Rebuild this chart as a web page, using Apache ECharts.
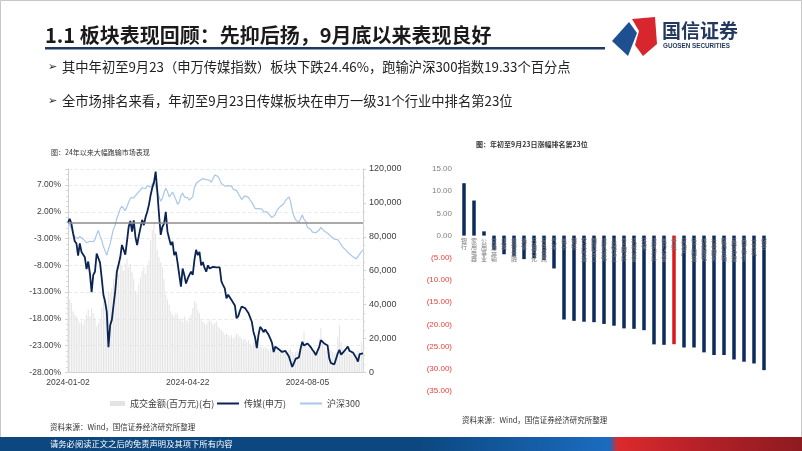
<!DOCTYPE html>
<html><head><meta charset="utf-8">
<script src="https://cdn.jsdelivr.net/npm/echarts@6/dist/echarts.min.js"></script>
<style>html,body{margin:0;padding:0;background:#fff}#c{width:802px;height:451px}</style>
</head><body><div id="c"></div>
<script>
// ---------- data ----------
const tradingDays = {
  '01':[2,3,4,5,8,9,10,11,12,15,16,17,18,19,22,23,24,25,26,29,30,31],
  '02':[1,2,5,6,7,8,19,20,21,22,23,26,27,28,29],
  '03':[1,4,5,6,7,8,11,12,13,14,15,18,19,20,21,22,25,26,27,28,29],
  '04':[1,2,3,8,9,10,11,12,15,16,17,18,19,22,23,24,25,26,29,30],
  '05':[6,7,8,9,10,13,14,15,16,17,20,21,22,23,24,27,28,29,30,31],
  '06':[3,4,5,6,7,11,12,13,14,17,18,19,20,21,24,25,26,27,28],
  '07':[1,2,3,4,5,8,9,10,11,12,15,16,17,18,19,22,23,24,25,26,29,30,31],
  '08':[1,2,5,6,7,8,9,12,13,14,15,16,19,20,21,22,23,26,27,28,29,30],
  '09':[2,3,4,5,6,9,10,11,12,13,18,19,20,23]
};
const dates = [];
Object.keys(tradingDays).forEach(m => tradingDays[m].forEach(d => dates.push('2024-' + m + '-' + String(d).padStart(2,'0'))));

// 传媒(申万) cumulative change, %
const media = [
  0, 0.7, -0.2, -2.0, -3.5, -3.9, -6.2, -3.9, -5.5, -5.7,
  -6.5, -8.7, -7.3, -9.5, -13.0, -9.8, -9.2, -5.8, -5.8, -7.5,
  -10.4, -13.5, -14.8, -16.7, -23.3, -19.2, -18.2, -15.5, -12.9, -9.2,
  -8.9, -6.5, -4.2, -4.0, -6.0, -3.5, -0.8, 0.3, -1.7, 0.4,
  -2.7, -4.2, -2.5, -1.0, 0.5, -0.5, 1.0, 2.0, 3.3, 5.1,
  6.5, 7.5, 9.5, 5.8, 1.4, -2.3, -0.8, -0.2, 2.0, -1.7,
  -3.0, -4.2, -3.6, -6.1, -5.5, -7.5, -9.8, -12.0, -8.6, -9.8,
  -11.4, -10.5, -9.8, -9.2, -9.8, -7.0, -5.1, -6.1, -5.5, -8.0,
  -7.4, -8.5, -9.2, -8.0, -8.6, -8.3, -8.3, -8.4, -8.4, -8.3,
  -8.4, -11.0, -11.7, -12.3, -14.2, -13.5, -13.8, -14.5, -14.8, -15.5,
  -17.9, -17.5, -16.5, -15.7, -15.5, -16.0, -16.3, -16.9, -16.7, -18.5,
  -20.4, -21.5, -23.5, -21.0, -19.5, -19.9, -20.5, -20.0, -20.5, -21.0,
  -21.7, -22.5, -24.2, -23.2, -23.5, -23.7, -24.0, -24.2, -24.0, -24.0,
  -24.2, -25.0, -26.0, -27.0, -26.3, -25.5, -25.3, -25.2, -23.5, -22.3,
  -23.0, -23.2, -22.6, -22.8, -23.3, -23.8, -24.2, -24.8, -24.0, -23.3,
  -22.0, -22.3, -22.6, -22.8, -23.0, -25.4, -26.3, -26.6, -26.5, -25.5,
  -24.5, -23.8, -24.7, -25.0, -24.0, -23.6, -23.2, -24.0, -24.2, -24.3,
  -24.5, -25.3, -26.0, -24.6, -24.5, -24.46
];
// 沪深300 cumulative change, %
const csi300 = [
  0, -0.4, -1.1, -1.9, -2.7, -2.8, -3.0, -2.6, -2.8, -3.1,
  -3.3, -3.8, -4.0, -3.5, -3.3, -3.6, -3.2, -2.2, -1.5, -2.5,
  -3.3, -4.5, -5.3, -6.1, -5.0, -4.0, -2.5, -1.2, -0.5, 0.8,
  1.6, 2.6, 3.0, 2.7, 2.2, 2.5, 3.8, 4.6, 4.8, 4.6,
  4.8, 5.4, 5.7, 6.1, 6.5, 6.8, 6.3, 6.9, 7.2, 6.6,
  7.2, 7.6, 6.8, 5.6, 4.8, 4.0, 4.5, 5.6, 6.4, 5.8,
  4.8, 5.2, 5.7, 5.0, 4.3, 3.4, 3.8, 5.0, 5.5, 4.8,
  4.5, 4.6, 4.2, 4.0, 4.8, 6.5, 7.3, 7.5, 7.8, 8.1,
  8.2, 7.9, 8.0, 8.2, 7.9, 7.5, 7.8, 8.9, 8.8, 8.6,
  8.0, 7.3, 7.0, 6.8, 6.6, 6.9, 7.1, 6.8, 6.2, 5.9,
  6.0, 5.4, 4.9, 4.3, 4.6, 5.0, 5.2, 4.7, 4.2, 3.8,
  3.2, 2.6, 2.4, 2.6, 2.3, 2.5, 2.0, 1.8, 2.0, 1.6,
  1.4, 0.9, 0.6, 1.5, 2.3, 2.6, 3.0, 3.0, 3.5, 4.1,
  4.4, 4.8, 4.0, 2.3, 1.2, 0.5, 0.4, 0.0, -0.2, 1.4,
  0.6, 0.2, -0.9, -1.1, -1.3, -1.8, -1.6, -1.9, -2.0, -1.4,
  -0.9, -1.2, -1.6, -1.9, -2.0, -2.3, -2.6, -2.9, -3.1, -3.3,
  -3.2, -3.6, -3.9, -4.6, -4.5, -5.2, -5.5, -5.9, -6.1, -6.4,
  -6.6, -6.8, -6.5, -5.9, -5.5, -5.13
];
// 成交金额(百万元)
const turnover = [
  45000, 43000, 41000, 36000, 34000, 33000, 31000, 29000, 30000, 28000,
  31000, 34000, 37000, 33000, 38000, 35000, 32000, 27000, 29000, 31000,
  38000, 42000, 44000, 40000, 48000, 47000, 50000, 55000, 60000, 62000,
  58000, 65000, 63000, 60000, 64000, 67000, 62000, 64000, 59000, 55000,
  48000, 46000, 52000, 56000, 60000, 62000, 58000, 63000, 66000, 78000,
  84000, 89000, 82000, 72000, 68000, 65000, 62000, 55000, 46000, 43000,
  40000, 36000, 34000, 33000, 35000, 34000, 31000, 32000, 30000, 33000,
  31000, 30000, 32000, 34000, 38000, 42000, 41000, 37000, 35000, 31000,
  30000, 29000, 28000, 30000, 31000, 30000, 28000, 29000, 30000, 27000,
  26000, 25000, 24000, 22000, 23000, 22000, 21000, 22000, 20000, 21000,
  23000, 22000, 21000, 20000, 19000, 20000, 18000, 19000, 17000, 16000,
  18000, 19000, 20000, 17000, 16000, 15000, 14000, 15000, 14000, 13000,
  14000, 13000, 15000, 14000, 13000, 12000, 13000, 14000, 12000, 13000,
  12000, 13000, 14000, 12000, 11000, 12000, 13000, 12000, 14000, 18000,
  24000, 17000, 14000, 15000, 13000, 12000, 13000, 12000, 14000, 20000,
  26000, 19000, 15000, 13000, 12000, 14000, 13000, 12000, 11000, 12000,
  21000, 28000, 18000, 14000, 13000, 12000, 13000, 11000, 12000, 10000,
  12000, 11000, 13000, 12000, 18000, 14000
];

// right chart: 申万一级行业 年初至9月23日涨幅(%)
const industries = ['银行','家用电器','公用事业','交通运输','煤炭','非银金融','通信','石油石化','有色金属','汽车',
  '电子','钢铁','农林牧渔','国防军工','建筑装饰','基础化工','食品饮料','机械设备','环保','建筑材料',
  '电力设备','传媒','房地产','轻工制造','纺织服饰','社会服务','医药生物','美容护理','商贸零售','计算机','综合'];
const industryChange = [11.8, 7.9, 0.96, -3.2, -4.2, -4.7, -5.3, -5.1, -5.5, -7.4,
  -18.9, -19.2, -19.4, -19.5, -19.9, -20.3, -20.9, -21.0, -21.3, -24.5,
  -24.6, -24.46, -25.2, -25.2, -26.3, -26.9, -26.9, -27.9, -28.4, -28.8, -30.3];
const highlightIndustry = '传媒';

// ---------- chart ----------
const NUM = '"Liberation Sans", Arial, "Noto Sans CJK SC", sans-serif';
const CJK = '"Noto Sans CJK SC", "DejaVu Sans", sans-serif';
const chart = echarts.init(document.getElementById('c'), null, {renderer: 'canvas'});

function txt(x, y, text, font, fill, align) {
  return {type: 'text', x: x, y: y, silent: true,
    style: {text: text, font: font, fill: fill, textAlign: align || 'left', textVerticalAlign: 'middle',
      align: align || 'left', verticalAlign: 'middle'}};
}

const graphics = [
  {type: 'rect', shape: {x: 0.5, y: 0.5, width: 801, height: 450}, style: {fill: 'none', stroke: '#c6c6c6', lineWidth: 1}, silent: true},
  txt(45, 35, '1.1 板块表现回顾：先抑后扬，9月底以来表现良好', 'bold 20px ' + CJK, '#1a1a1a'),
  {type: 'rect', shape: {x: 45, y: 47, width: 560, height: 2.5}, style: {fill: '#1f3864'}, silent: true},
  txt(48, 67, '➢', '11px "DejaVu Sans"', '#222'),
  txt(62, 67, '其中年初至9月23（申万传媒指数）板块下跌24.46%，跑输沪深300指数19.33个百分点', '13.3px ' + CJK, '#222'),
  txt(48, 101, '➢', '11px "DejaVu Sans"', '#222'),
  txt(62, 101, '全市场排名来看，年初至9月23日传媒板块在申万一级31个行业中排名第23位', '13.3px ' + CJK, '#222'),
  // logo
  {type: 'polygon', shape: {points: [[612,41],[629,22],[637,33],[628,56]]}, style: {fill: '#1d4f91'}, silent: true},
  {type: 'polygon', shape: {points: [[632,19],[655,17],[657,44],[643,56],[635,45],[639,31]]}, style: {fill: '#d7262e'}, silent: true},
  txt(662, 31, '国信证券', 'bold 19px ' + CJK, '#233a5e'),
  txt(663, 46, 'GUOSEN SECURITIES', 'bold 6.3px ' + NUM, '#233a5e'),
  // chart captions
  txt(51, 152, '图：24年以来大幅跑输市场表现', '7px ' + CJK, '#333'),
  txt(476, 144, '图：年初至9月23日涨幅排名第23位', 'bold 7px ' + CJK, '#333'),
  txt(50, 427, '资料来源：Wind，国信证券经济研究所整理', '7.5px ' + CJK, '#333'),
  txt(462, 420, '资料来源：Wind，国信证券经济研究所整理', '7.5px ' + CJK, '#333'),
  // footer
  {type: 'rect', shape: {x: 0, y: 437, width: 802, height: 14}, silent: true,
    style: {fill: new echarts.graphic.LinearGradient(0, 0, 1, 0, [
      {offset: 0, color: '#0c477f'}, {offset: 0.52, color: '#0c477f'}, {offset: 0.76, color: '#1b6cc0'},
      {offset: 0.77, color: '#dc2a2d'}, {offset: 0.88, color: '#b32027'}, {offset: 1, color: '#8d1b20'}])}},
  txt(50, 444, '请务必阅读正文之后的免责声明及其项下所有内容', '8.3px ' + CJK, '#fff')
];

const legendText = {fontSize: 9, color: '#404040', fontFamily: CJK};
const catLabel = {show: true, formatter: p => p.name.split('').join('\n'), fontSize: 6, lineHeight: 6,
  color: '#7a7a7a', fontFamily: CJK, distance: 2};
const option = {
  animation: false,
  backgroundColor: '#fff',
  textStyle: {fontFamily: NUM},
  graphic: graphics,
  legend: [
    {left: 105, top: 394, itemWidth: 15, itemHeight: 5, textStyle: legendText,
      data: [{name: '成交金额(百万元)(右)', icon: 'rect'}]},
    {left: 212, top: 394, itemWidth: 22, itemHeight: 2, itemGap: 14, textStyle: legendText, icon: 'rect',
      data: [{name: '传媒(申万)'}, {name: '沪深300'}]}
  ],
  grid: [
    {left: 68, right: 439, top: 169, bottom: 78.7},
    {left: 459, right: 33, top: 169, bottom: 60}
  ],
  xAxis: [
    {type: 'category', gridIndex: 0, data: dates, boundaryGap: false,
      axisLine: {onZero: false, lineStyle: {color: '#d0d0d0'}},
      axisTick: {show: false},
      axisLabel: {interval: 70, fontSize: 8.5, color: '#404040', margin: 6},
      splitLine: {show: false}},
    {type: 'category', gridIndex: 1, data: industries,
      axisLine: {show: false}, axisTick: {show: false}, axisLabel: {show: false}}
  ],
  yAxis: [
    {type: 'value', gridIndex: 0, min: -28, max: 10, interval: 5,
      axisLine: {show: true, lineStyle: {color: '#d0d0d0'}},
      axisTick: {show: true, length: 3, lineStyle: {color: '#d0d0d0'}},
      minorTick: {show: true, splitNumber: 5, length: 2, lineStyle: {color: '#d8d8d8'}},
      axisLabel: {fontSize: 8.5, color: '#404040', margin: 7, showMaxLabel: false,
        formatter: v => v.toFixed(2) + '%'},
      splitLine: {show: true, lineStyle: {color: '#ececec', type: 'dashed'}}},
    {type: 'value', gridIndex: 0, position: 'right', min: 0, max: 120000, interval: 20000,
      axisLine: {show: true, lineStyle: {color: '#d0d0d0'}},
      axisTick: {show: true, length: 3, lineStyle: {color: '#d0d0d0'}},
      minorTick: {show: true, splitNumber: 4, length: 2, lineStyle: {color: '#d8d8d8'}},
      axisLabel: {fontSize: 9, color: '#404040', margin: 6, formatter: v => v.toLocaleString('en-US')},
      splitLine: {show: false}},
    {type: 'value', gridIndex: 1, min: -35, max: 15, interval: 5,
      axisLine: {show: false}, axisTick: {show: false}, splitLine: {show: false},
      axisLabel: {fontSize: 8, margin: 7,
        color: v => (Number(v) < 0 ? '#e8413b' : '#7f7f7f'),
        formatter: v => (v < 0 ? '(' + Math.abs(v).toFixed(2) + ')' : v.toFixed(2))}}
  ],
  series: [
    {name: '成交金额(百万元)(右)', type: 'bar', xAxisIndex: 0, yAxisIndex: 1, data: turnover,
      barCategoryGap: '45%', itemStyle: {color: '#e3e3e3'}, z: 1},
    {name: '传媒(申万)', type: 'line', xAxisIndex: 0, yAxisIndex: 0, data: media, symbol: 'none',
      lineStyle: {color: '#0b2454', width: 1.8}, itemStyle: {color: '#0b2454'}, z: 4},
    {name: '沪深300', type: 'line', xAxisIndex: 0, yAxisIndex: 0, data: csi300, symbol: 'none',
      lineStyle: {color: '#a9c7e8', width: 1.2}, itemStyle: {color: '#a9c7e8'}, z: 3,
      markLine: {silent: true, symbol: ['none', 'none'], label: {show: false},
        lineStyle: {color: '#8c8c8c', width: 1.5, type: 'solid'}, data: [{yAxis: 0}]}},
    {name: 'industry', type: 'bar', xAxisIndex: 1, yAxisIndex: 2, barWidth: 3.5,
      itemStyle: {color: '#0b2b5c'}, z: 2, label: catLabel,
      data: industryChange.map((v, i) => {
        const item = {value: v, label: {position: v >= 0 ? 'bottom' : 'insideTop'}};
        if (industries[i] === highlightIndustry) item.itemStyle = {color: '#d7191c'};
        return item;
      })}
  ]
};
chart.setOption(option);
</script></body></html>
